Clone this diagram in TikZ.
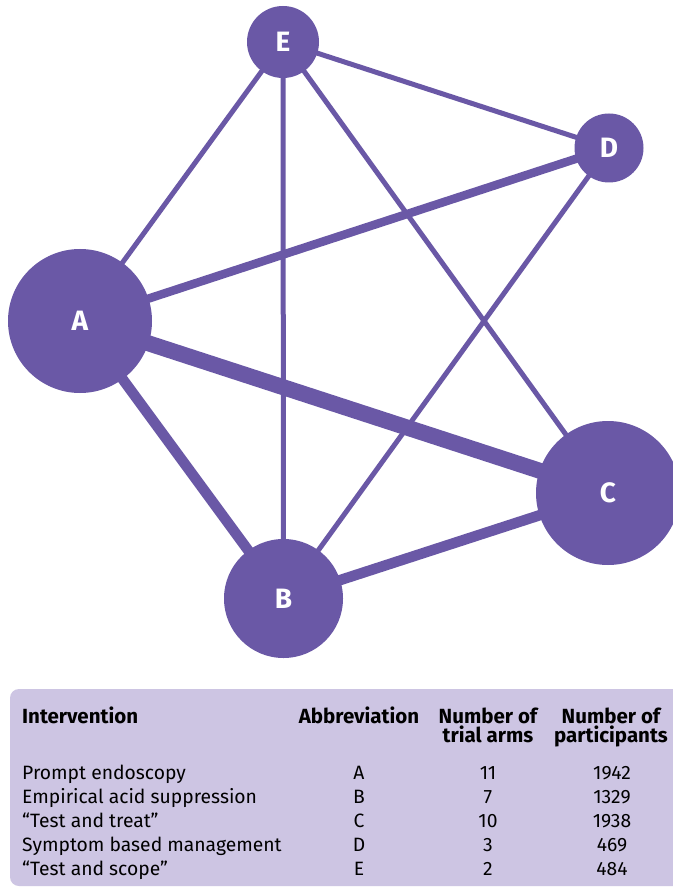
\documentclass[tikz,border=0pt]{standalone}
\usepackage{fontspec}
\setmainfont{Fira Sans}
\usetikzlibrary{backgrounds}
\definecolor{netpurple}{HTML}{6A58A6}
\definecolor{tablebg}{HTML}{CDC5E3}
\begin{document}
\begin{tikzpicture}[x=1pt,y=-1pt,
  intnode/.style={circle,fill=netpurple,inner sep=0pt,text=white,
    font=\fontsize{28}{28}\selectfont\bfseries},
  netedge/.style={draw=netpurple,line cap=butt},
  thinedge/.style={netedge,line width=5pt},
  midedge/.style={netedge,line width=8.5pt},
  bedge/.style={netedge,line width=10.5pt},
  thickedge/.style={netedge,line width=16pt},
  tabtext/.style={inner sep=0pt,font=\fontsize{19.3}{19}\selectfont,anchor=base},
  tabhead/.style={tabtext,font=\fontsize{20.5}{19}\selectfont\bfseries,align=center}
]
\useasboundingbox (0,0) rectangle (672,890);
% nodes
\node[intnode,minimum size=144pt] (A) at (80,321) {A};
\node[intnode,minimum size=119pt] (B) at (283.5,598.5) {B};
\node[intnode,minimum size=144pt] (C) at (608,493) {C};
\node[intnode,minimum size=69pt] (D) at (609,148) {D};
\node[intnode,minimum size=72pt] (E) at (283,42) {E};
\begin{pgfonlayer}{background}
\fill[white] (0,0) rectangle (672,890);
\draw[thinedge] (E.center) -- (A.center);
\draw[thinedge] (E.center) -- (B.center);
\draw[thinedge] (E.center) -- (C.center);
\draw[thinedge] (E.center) -- (D.center);
\draw[thinedge] (B.center) -- (D.center);
\draw[midedge] (A.center) -- (D.center);
\draw[thickedge] (A.center) -- (C.center);
\draw[bedge] (A.center) -- (B.center);
\draw[bedge] (B.center) -- (C.center);
\end{pgfonlayer}
% table
\fill[tablebg,rounded corners=9pt] (10,689) rectangle (700,886);
\node[tabhead,anchor=base west] (h1) at (22,723) {Intervention};
\node[tabhead] (h2) at (359,723) {Abbreviation};
\node[tabhead,anchor=north] (h3) at (488,708) {Number of\\trial arms};
\node[tabhead,anchor=north] (h4) at (611,708) {Number of\\participants};
\foreach \n/\lab/\ab/\arms/\part [count=\i] in {
  r1/{Prompt endoscopy}/A/11/1942,
  r2/{Empirical acid suppression}/B/7/1329,
  r3/{“Test and treat”}/C/10/1938,
  r4/{Symptom based management}/D/3/469,
  r5/{“Test and scope”}/E/2/484}{
  \pgfmathsetmacro{\yy}{755+24*\i}
  \node[tabtext,anchor=base west] (\n a) at (22,\yy) {\lab};
  \node[tabtext] (\n b) at (359,\yy) {\ab};
  \node[tabtext] (\n c) at (488,\yy) {\arms};
  \node[tabtext] (\n d) at (612,\yy) {\part};
}
\end{tikzpicture}
\end{document}
